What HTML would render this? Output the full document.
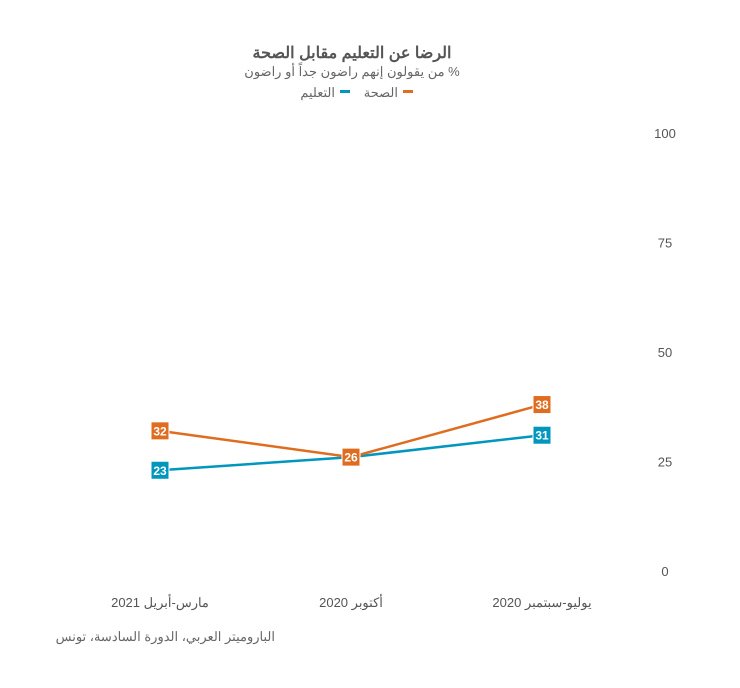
<!DOCTYPE html>
<html lang="ar"><head><meta charset="utf-8">
<style>
body{margin:0;background:#fff;width:740px;height:683px;overflow:hidden;font-family:"Liberation Sans","Noto Sans CJK SC",sans-serif;}
svg text{font-family:"Liberation Sans","Noto Sans CJK SC",sans-serif;}
</style></head><body>
<svg id="chart" width="740" height="683" xmlns="http://www.w3.org/2000/svg">
<text x="352" y="58" text-anchor="middle" font-size="16" font-weight="bold" fill="#555" direction="rtl">الرضا عن التعليم مقابل الصحة</text>
<text x="352" y="76" text-anchor="middle" font-size="13" fill="#666" direction="rtl">% من يقولون إنهم راضون جداً أو راضون</text>
<g>
<rect x="403" y="90" width="10" height="3" fill="#e06c1f"/>
<text x="398" y="97" text-anchor="end" font-size="13" fill="#666">الصحة</text>
<rect x="340" y="90" width="10" height="3" fill="#0096be"/>
<text x="335" y="97" text-anchor="end" font-size="13" fill="#666">التعليم</text>
</g>
<g id="axis"></g><g id="marks"></g>
<text x="275" y="641" text-anchor="start" font-size="13" fill="#666" direction="rtl">الباروميتر العربي، الدورة السادسة، تونس</text>
</svg>
<script>
const categories=["يوليو-سبتمبر 2020","أكتوبر 2020","مارس-أبريل 2021"];
const education=[31,26,23];
const health=[38,26,32];
const yTicks=[0,25,50,75,100];
const NS="http://www.w3.org/2000/svg";
const xPos=[542,350,160];
function x(i){return xPos[0]+(xPos[2]-xPos[0])*i/(categories.length-1);}
function y(v){return 571-v*4.38;}
function mk(tag,attrs,parent,txt){const e=document.createElementNS(NS,tag);for(const k in attrs)e.setAttribute(k,attrs[k]);if(txt!==undefined)e.textContent=txt;parent.appendChild(e);return e;}
const ax=document.getElementById('axis'),mg=document.getElementById('marks');
yTicks.forEach(t=>{const e=mk('text',{x:665,y:y(t)+5,'text-anchor':'middle','font-size':13,fill:'#555'},ax,String(t));

});
categories.forEach((c,i)=>{const e=mk('text',{x:x(i),y:607,'text-anchor':'middle','font-size':13,fill:'#555',direction:'rtl'},ax,c);

});
function series(vals,color,name){
const pts=vals.map((v,i)=>x(i)+','+y(v)).join(' ');
const l=mk('polyline',{points:pts,fill:'none',stroke:color,'stroke-width':2.5},mg);


vals.forEach((v,i)=>{const g=mk('g',{},mg);


mk('rect',{x:x(i)-9,y:y(v)-9,width:18,height:18,fill:color,stroke:'#fff','stroke-width':1},g);
mk('text',{x:x(i),y:y(v)+4.5,'text-anchor':'middle','font-size':12,'font-weight':'bold',fill:'#fff'},g,String(v));});
}
series(education,'#0096be','education');
series(health,'#e06c1f','health');
</script>
</body></html>
